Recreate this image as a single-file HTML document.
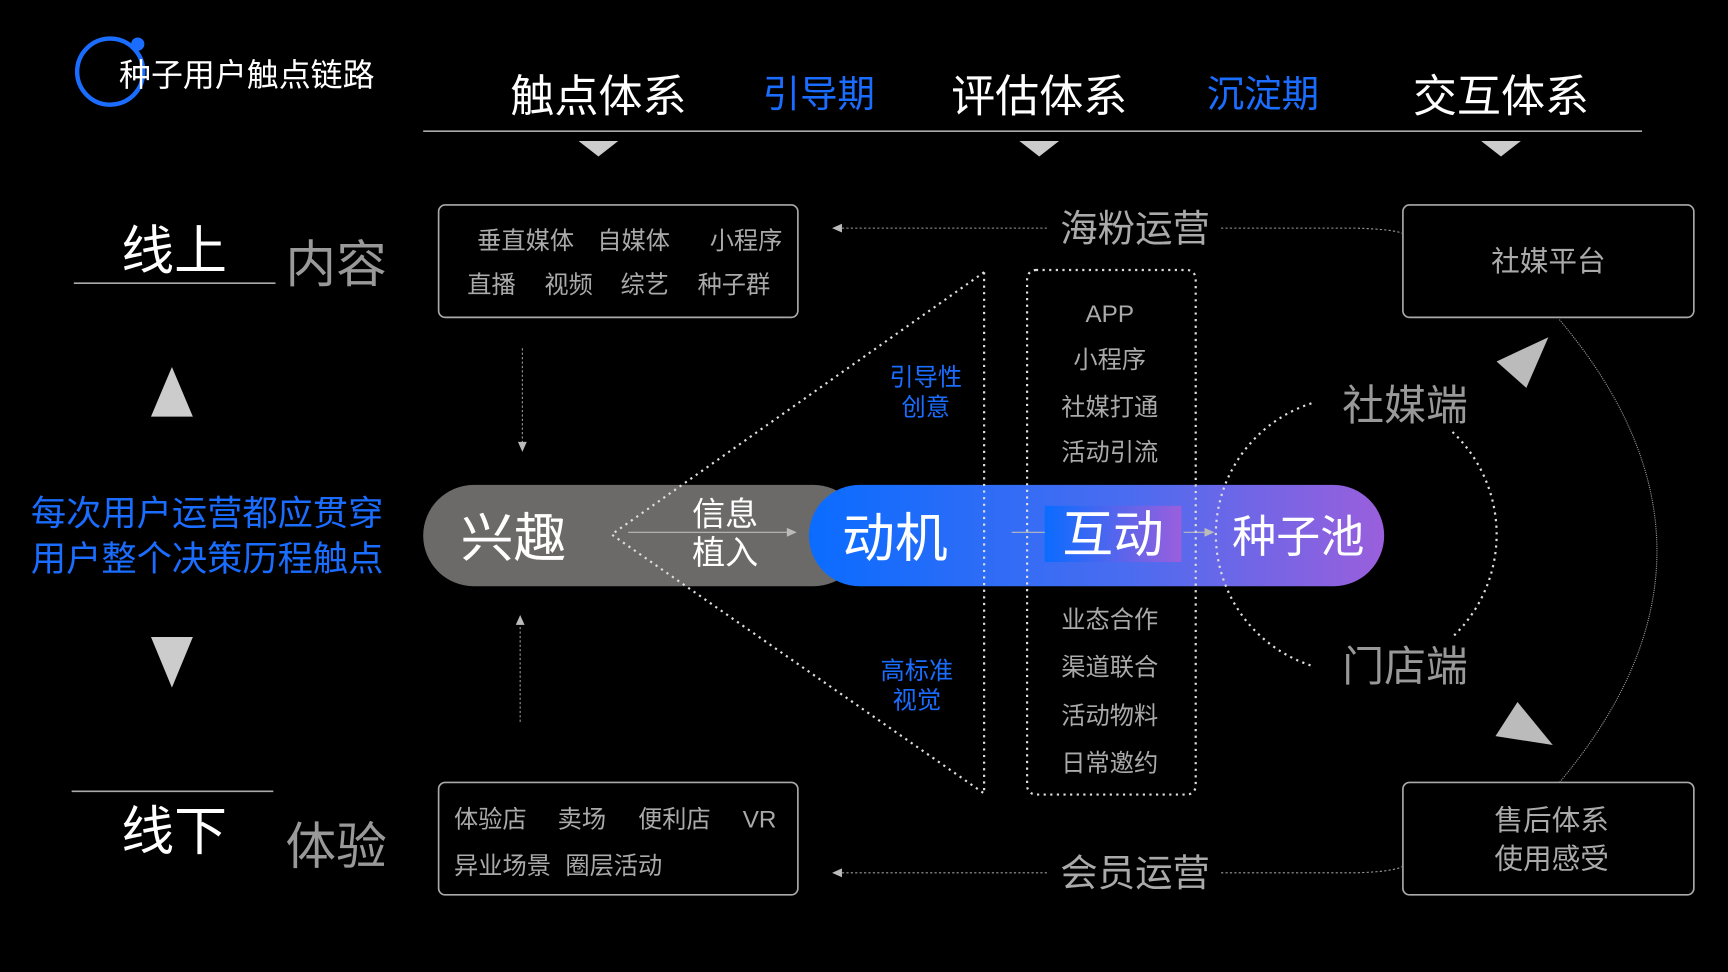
<!DOCTYPE html>
<html><head><meta charset="utf-8"><style>
html,body{margin:0;padding:0;background:#000;width:1728px;height:972px;overflow:hidden}
svg{display:block}
text{font-family:"Liberation Sans","Noto Sans CJK SC",sans-serif}
</style></head><body>
<svg width="1728" height="972" viewBox="0 0 1568 882" xmlns="http://www.w3.org/2000/svg">
<defs>
<linearGradient id="g1" x1="0" x2="1" y1="0" y2="0"><stop offset="0" stop-color="#0a6cff"/><stop offset="0.55" stop-color="#4a6cf0"/><stop offset="1" stop-color="#9a5fdc"/></linearGradient>
<linearGradient id="g2" x1="0" x2="1" y1="0" y2="0"><stop offset="0" stop-color="#0a6cff"/><stop offset="1" stop-color="#9a5fdc"/></linearGradient>
</defs>
<rect width="1568" height="882" fill="#000"/>
<circle cx="100" cy="65" r="30" fill="none" stroke="#1a6dff" stroke-width="4"/>
<circle cx="125" cy="40" r="6" fill="#1a6dff"/>
<text x="108" y="78" font-size="29" fill="#fff">种子用户触点链路</text>
<g font-size="40" fill="#fff" text-anchor="middle">
<text x="543" y="101">触点体系</text><text x="943" y="101">评估体系</text><text x="1362" y="101">交互体系</text>
</g>
<g font-size="34" fill="#1a6dff" text-anchor="middle">
<text x="743" y="97">引导期</text><text x="1146" y="97">沉淀期</text>
</g>
<line x1="384" y1="119" x2="1490" y2="119" stroke="#aaa" stroke-width="1.5"/>
<g fill="#ccc"><polygon points="525,128 561,128 543,142"/><polygon points="925,128 961,128 943,142"/><polygon points="1344,128 1380,128 1362,142"/></g>
<text x="158" y="244" font-size="48" fill="#fff" text-anchor="middle">线上</text>
<line x1="67" y1="257" x2="250" y2="257" stroke="#aaa" stroke-width="1.5"/>
<text x="305" y="256" font-size="46" fill="#999" text-anchor="middle">内容</text>
<polygon points="156,333 137,378 175,378" fill="#ccc"/>
<polygon points="137,578 175,578 156,624" fill="#ccc"/>
<text x="188" y="477" font-size="32" fill="#1a6dff" text-anchor="middle">每次用户运营都应贯穿</text>
<text x="188" y="518" font-size="32" fill="#1a6dff" text-anchor="middle">用户整个决策历程触点</text>
<line x1="65" y1="718" x2="248" y2="718" stroke="#aaa" stroke-width="1.5"/>
<text x="158" y="771" font-size="48" fill="#fff" text-anchor="middle">线下</text>
<text x="305" y="784" font-size="46" fill="#999" text-anchor="middle">体验</text>
<g fill="none" stroke="#aaa" stroke-width="1.5">
<rect x="398" y="186" width="326" height="102" rx="6"/>
<rect x="398" y="710" width="326" height="102" rx="6"/>
<rect x="1273" y="186" width="264" height="102" rx="6"/>
<rect x="1273" y="710" width="264" height="102" rx="6"/>
</g>
<g font-size="22" fill="#aaa">
<text x="433" y="226">垂直媒体</text><text x="542" y="226">自媒体</text><text x="644" y="226">小程序</text>
<text x="424" y="266">直播</text><text x="494" y="266">视频</text><text x="563" y="266">综艺</text><text x="633" y="266">种子群</text>
<text x="412" y="751">体验店</text><text x="506" y="751">卖场</text><text x="579" y="751">便利店</text><text x="674" y="751">VR</text>
<text x="412" y="793">异业场景</text><text x="513" y="793">圈层活动</text>
</g>
<g font-size="26" fill="#aaa" text-anchor="middle">
<text x="1405" y="246">社媒平台</text>
<text x="1408" y="753">售后体系</text><text x="1408" y="788">使用感受</text>
</g>
<text x="1030" y="219" font-size="34" fill="#aaa" text-anchor="middle">海粉运营</text>
<text x="1030" y="804" font-size="34" fill="#aaa" text-anchor="middle">会员运营</text>
<g stroke="#999" stroke-width="1" stroke-dasharray="2,2" fill="none">
<line x1="950" y1="207" x2="762" y2="207"/>
<path d="M1108,207 L1230,207 Q1265,208 1273,212"/>
<line x1="950" y1="792" x2="762" y2="792"/>
<path d="M1108,792 L1230,792 Q1265,791 1273,786"/>
<line x1="474" y1="316" x2="474" y2="402"/>
<line x1="472" y1="655" x2="472" y2="566"/>
</g>
<g fill="#bbb"><polygon points="755,207 764,203 764,211"/><polygon points="755,792 764,788 764,796"/>
<polygon points="474,410 470,401 478,401"/><polygon points="472,558 468,567 476,567"/></g>
<rect x="384" y="440" width="400" height="92" rx="46" fill="#6b6a68"/>
<rect x="734" y="440" width="522" height="92" rx="46" fill="url(#g1)"/>
<rect x="948" y="459" width="124" height="51" fill="url(#g2)"/>
<text x="466" y="505" font-size="48" fill="#fff" text-anchor="middle">兴趣</text>
<text x="658" y="477" font-size="30" fill="#fff" text-anchor="middle">信息</text>
<text x="658" y="512" font-size="30" fill="#fff" text-anchor="middle">植入</text>
<text x="812" y="505" font-size="48" fill="#fff" text-anchor="middle">动机</text>
<text x="1010" y="501" font-size="46" fill="#fff" text-anchor="middle">互动</text>
<text x="1178" y="501" font-size="40" fill="#fff" text-anchor="middle">种子池</text>
<g stroke="#bbb" stroke-width="1"><line x1="570" y1="483" x2="716" y2="483"/><line x1="918" y1="483" x2="948" y2="483"/><line x1="1074" y1="483" x2="1096" y2="483"/></g>
<g fill="#bbb"><polygon points="723,483 714,479 714,487"/><polygon points="1102,483 1093,479 1093,487"/></g>
<g stroke="#ddd" stroke-width="2" stroke-dasharray="2,4" fill="none">
<polyline points="893,247 555,485 893,720 893,247"/>
<rect x="932" y="245" width="153" height="476" rx="8"/>
<path d="M1190,366 A125,125 0 0 0 1190,604"/>
<path d="M1318,392 A128,128 0 0 1 1318,578"/>
</g>
<g stroke="#999" stroke-width="1" fill="none" stroke-dasharray="1,1">
<path d="M1415,290 Q1592,500 1415,710"/>
</g>
<g font-size="22" fill="#1a6dff" text-anchor="middle">
<text x="840" y="350">引导性</text><text x="840" y="377">创意</text>
<text x="832" y="616">高标准</text><text x="832" y="643">视觉</text>
</g>
<g font-size="22" fill="#aaa" text-anchor="middle">
<text x="1007" y="292">APP</text><text x="1007" y="334">小程序</text><text x="1007" y="377">社媒打通</text><text x="1007" y="418">活动引流</text>
<text x="1007" y="570">业态合作</text><text x="1007" y="613">渠道联合</text><text x="1007" y="657">活动物料</text><text x="1007" y="700">日常邀约</text>
</g>
<text x="1275" y="381" font-size="38" fill="#999" text-anchor="middle">社媒端</text>
<text x="1275" y="618" font-size="38" fill="#999" text-anchor="middle">门店端</text>
<g fill="#bbb"><polygon points="1405,306 1358,328 1385,352"/><polygon points="1377,637 1357,668 1409,676"/></g>
</svg>
</body></html>
